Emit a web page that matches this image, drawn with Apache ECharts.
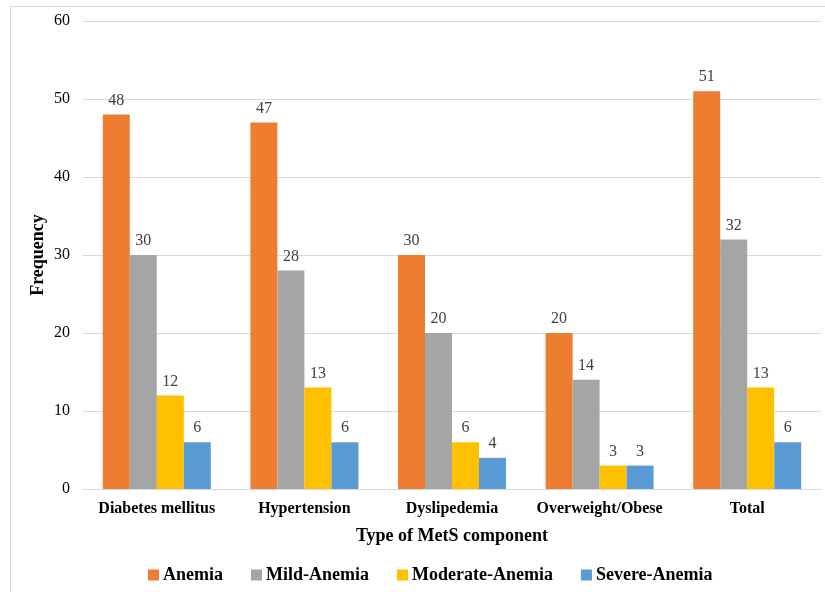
<!DOCTYPE html>
<html><head><meta charset="utf-8">
<script src="https://cdn.jsdelivr.net/npm/echarts@6/dist/echarts.min.js"></script>
<style>html,body{margin:0;padding:0;background:#fff}#c{width:825px;height:592px}#b{position:absolute;left:10px;top:6px;width:830px;height:600px;border:1px solid #d9d9d9;pointer-events:none}</style>
</head><body><div id="c"></div><div id="b"></div>
<script>
const categories = ["Diabetes mellitus", "Hypertension", "Dyslipedemia", "Overweight/Obese", "Total"];
const anemia = [48, 47, 30, 20, 51];
const mildAnemia = [30, 28, 20, 14, 32];
const moderateAnemia = [12, 13, 6, 3, 13];
const severeAnemia = [6, 6, 4, 3, 6];
const yTicks = [0, 10, 20, 30, 40, 50, 60];

const font = "'Liberation Serif', 'Times New Roman', serif";
const chart = echarts.init(document.getElementById('c'));
function s(name, data, color) {
  return {
    name, type: 'bar', data, barWidth: 27, barGap: '0%',
    itemStyle: { color },
    label: { show: true, position: 'top', distance: 6, color: '#404040', fontFamily: font, fontSize: 16 }
  };
}
chart.setOption({
  animation: false,
  textStyle: { fontFamily: font },
  grid: { left: 83, right: 4, top: 21, bottom: 103, containLabel: false },
  legend: {
    bottom: 3, left: 143, itemWidth: 11, itemHeight: 11, itemGap: 28,
    icon: 'rect',
    textStyle: { fontFamily: font, fontSize: 18, fontWeight: 'bold', color: '#000', padding: [0, 0, 0, -1] },
    data: ['Anemia', 'Mild-Anemia', 'Moderate-Anemia', 'Severe-Anemia']
  },
  xAxis: {
    type: 'category', data: categories,
    name: 'Type of MetS component', nameLocation: 'middle', nameGap: 38,
    nameTextStyle: { fontFamily: font, fontSize: 18, fontWeight: 'bold', color: '#000' },
    axisLine: { lineStyle: { color: '#d9d9d9' } },
    axisTick: { show: false },
    axisLabel: { interval: 0, fontFamily: font, fontSize: 16, fontWeight: 'bold', color: '#000', margin: 12 }
  },
  yAxis: {
    type: 'value', min: yTicks[0], max: yTicks[yTicks.length - 1], interval: 10,
    name: 'Frequency', nameLocation: 'middle', nameGap: 36, nameRotate: 90, nameMoveOverlap: false,
    nameTextStyle: { fontFamily: font, fontSize: 18, fontWeight: 'bold', color: '#000' },
    axisLine: { show: false }, axisTick: { show: false },
    splitLine: { lineStyle: { color: '#d9d9d9' } },
    axisLabel: { fontFamily: font, fontSize: 16, color: '#000', margin: 13 }
  },
  series: [
    s('Anemia', anemia, '#ED7D31'),
    s('Mild-Anemia', mildAnemia, '#A5A5A5'),
    s('Moderate-Anemia', moderateAnemia, '#FFC000'),
    s('Severe-Anemia', severeAnemia, '#5B9BD5')
  ]
});
</script></body></html>
